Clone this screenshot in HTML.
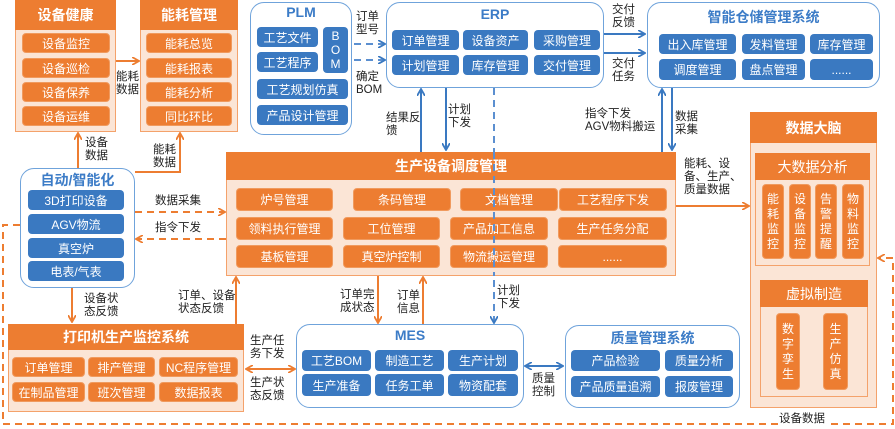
<!DOCTYPE html>
<html><head><meta charset="utf-8"><style>
*{margin:0;padding:0;box-sizing:border-box}
body{width:895px;height:429px;background:#fff;position:relative;overflow:hidden;font-family:"Liberation Sans","Noto Sans CJK SC",sans-serif;}
.a{position:absolute}
.ob{position:absolute;background:#FBE5D6;border:1.5px solid #F4A26B}
.oh{position:absolute;background:#ED7D31;color:#fff;font-weight:bold;font-size:14px;display:flex;align-items:center;justify-content:center}
.oi{position:absolute;background:#ED7D31;color:#fff;font-size:12px;border-radius:4px;display:flex;align-items:center;justify-content:center;border:1px solid #F09A5E}
.bb{position:absolute;background:#fff;border:1.5px solid #6FA3DB;border-radius:14px}
.bt{position:absolute;color:#3C7CC7;font-weight:bold;font-size:14px;text-align:center}
.bi{position:absolute;background:#3A79C1;color:#fff;font-size:12px;border-radius:4px;display:flex;align-items:center;justify-content:center}
.v{flex-direction:column;line-height:15px;text-align:center}
.l{position:absolute;font-size:11.5px;color:#222;line-height:13px}
</style></head><body>
<svg class="a" style="left:0;top:0" width="895" height="429">
<defs>
<marker id="ao" markerWidth="8" markerHeight="8" refX="7" refY="4" orient="auto" markerUnits="userSpaceOnUse"><path d="M0,0 L7,4 L0,8" fill="none" stroke="#ED7D31" stroke-width="1.8"/></marker>
<marker id="ab" markerWidth="8" markerHeight="8" refX="7" refY="4" orient="auto" markerUnits="userSpaceOnUse"><path d="M0,0 L7,4 L0,8" fill="none" stroke="#3A79C1" stroke-width="1.8"/></marker>
<marker id="abs" markerWidth="8" markerHeight="8" refX="7" refY="4" orient="auto-start-reverse" markerUnits="userSpaceOnUse"><path d="M0,0 L7,4 L0,8" fill="none" stroke="#3A79C1" stroke-width="1.8"/></marker>
<marker id="aos" markerWidth="8" markerHeight="8" refX="7" refY="4" orient="auto-start-reverse" markerUnits="userSpaceOnUse"><path d="M0,0 L7,4 L0,8" fill="none" stroke="#ED7D31" stroke-width="1.8"/></marker>
</defs>
<g stroke="#ED7D31" stroke-width="2" fill="none">
<line x1="115" y1="61" x2="139" y2="61" marker-end="url(#ao)"/>
<line x1="78" y1="168" x2="78" y2="133" marker-end="url(#ao)"/>
<polyline points="135,172 180,172 180,133" marker-end="url(#ao)"/>
<line x1="72" y1="288" x2="72" y2="322" marker-end="url(#ao)"/>
<line x1="236" y1="324" x2="236" y2="277" marker-end="url(#ao)"/>
<line x1="378" y1="275" x2="378" y2="323" marker-end="url(#ao)"/>
<line x1="423" y1="324" x2="423" y2="277" marker-end="url(#ao)"/>
<line x1="246" y1="369" x2="295" y2="369" marker-start="url(#aos)" marker-end="url(#ao)"/>
<line x1="676" y1="206" x2="749" y2="206" marker-end="url(#ao)"/>
<g stroke-dasharray="7,5">
<line x1="135" y1="212" x2="225" y2="212" marker-end="url(#ao)"/>
<line x1="226" y1="239" x2="136" y2="239" marker-end="url(#ao)"/>
<polyline points="20,225 3,225 3,424 893,424 893,258 878,258" marker-end="url(#ao)"/>
</g>
</g>
<g stroke="#3A79C1" stroke-width="2" fill="none">
<line x1="421" y1="152" x2="421" y2="89" marker-end="url(#ab)"/>
<line x1="446" y1="88" x2="446" y2="150" marker-end="url(#ab)"/>
<line x1="662" y1="152" x2="662" y2="89" marker-end="url(#ab)"/>
<line x1="672" y1="88" x2="672" y2="150" marker-end="url(#ab)"/>
<line x1="604" y1="34" x2="645" y2="34" marker-end="url(#ab)"/>
<line x1="604" y1="53" x2="645" y2="53" marker-end="url(#ab)"/>
<line x1="525" y1="366" x2="563" y2="366" marker-start="url(#abs)" marker-end="url(#ab)"/>
<g stroke-dasharray="7,5" stroke="#5B8FD0">
<line x1="354" y1="44" x2="385" y2="44" marker-end="url(#ab)"/>
<line x1="354" y1="60" x2="385" y2="60" marker-end="url(#ab)"/>
<line x1="494" y1="88" x2="494" y2="323" marker-end="url(#ab)"/>
</g>
</g>
</svg>

<!-- 设备健康 -->
<div class="ob" style="left:15px;top:0;width:101px;height:132px"></div>
<div class="oh" style="left:15px;top:0;width:101px;height:30px">设备健康</div>
<div class="oi" style="left:22px;top:33px;width:88px;height:20px">设备监控</div>
<div class="oi" style="left:22px;top:58px;width:88px;height:20px">设备巡检</div>
<div class="oi" style="left:22px;top:82px;width:88px;height:20px">设备保养</div>
<div class="oi" style="left:22px;top:106px;width:88px;height:20px">设备运维</div>
<!-- 能耗管理 -->
<div class="ob" style="left:140px;top:0;width:98px;height:132px"></div>
<div class="oh" style="left:140px;top:0;width:98px;height:30px">能耗管理</div>
<div class="oi" style="left:146px;top:33px;width:86px;height:20px">能耗总览</div>
<div class="oi" style="left:146px;top:58px;width:86px;height:20px">能耗报表</div>
<div class="oi" style="left:146px;top:82px;width:86px;height:20px">能耗分析</div>
<div class="oi" style="left:146px;top:106px;width:86px;height:20px">同比环比</div>
<div class="l" style="left:116px;top:71px">能耗<br>数据</div>
<div class="l" style="left:85px;top:137px">设备<br>数据</div>
<div class="l" style="left:153px;top:144px">能耗<br>数据</div>

<!-- PLM -->
<div class="bb" style="left:250px;top:2px;width:102px;height:133px"></div>
<div class="bt" style="left:250px;top:4px;width:102px">PLM</div>
<div class="bi" style="left:257px;top:27px;width:61px;height:20px">工艺文件</div>
<div class="bi" style="left:257px;top:52px;width:61px;height:20px">工艺程序</div>
<div class="bi v" style="left:323px;top:27px;width:25px;height:46px;line-height:14px">B<br>O<br>M</div>
<div class="bi" style="left:257px;top:79px;width:91px;height:20px">工艺规划仿真</div>
<div class="bi" style="left:257px;top:105px;width:91px;height:20px">产品设计管理</div>
<div class="l" style="left:356px;top:11px">订单<br>型号</div>
<div class="l" style="left:356px;top:71px">确定<br>BOM</div>

<!-- ERP -->
<div class="bb" style="left:386px;top:2px;width:218px;height:86px"></div>
<div class="bt" style="left:386px;top:6px;width:218px">ERP</div>
<div class="bi" style="left:392px;top:30px;width:67px;height:20px">订单管理</div>
<div class="bi" style="left:392px;top:55px;width:67px;height:20px">计划管理</div>
<div class="bi" style="left:463px;top:30px;width:65px;height:20px">设备资产</div>
<div class="bi" style="left:463px;top:55px;width:65px;height:20px">库存管理</div>
<div class="bi" style="left:534px;top:30px;width:66px;height:20px">采购管理</div>
<div class="bi" style="left:534px;top:55px;width:66px;height:20px">交付管理</div>
<div class="l" style="left:612px;top:4px">交付<br>反馈</div>
<div class="l" style="left:612px;top:58px">交付<br>任务</div>

<!-- 智能仓储 -->
<div class="bb" style="left:647px;top:2px;width:233px;height:86px"></div>
<div class="bt" style="left:647px;top:7px;width:233px">智能仓储管理系统</div>
<div class="bi" style="left:659px;top:34px;width:77px;height:20px">出入库管理</div>
<div class="bi" style="left:742px;top:34px;width:63px;height:20px">发料管理</div>
<div class="bi" style="left:810px;top:34px;width:63px;height:20px">库存管理</div>
<div class="bi" style="left:659px;top:59px;width:77px;height:21px">调度管理</div>
<div class="bi" style="left:742px;top:59px;width:63px;height:21px">盘点管理</div>
<div class="bi" style="left:810px;top:59px;width:63px;height:21px">......</div>

<div class="l" style="left:386px;top:112px">结果反<br>馈</div>
<div class="l" style="left:448px;top:104px">计划<br>下发</div>
<div class="l" style="left:585px;top:108px">指令下发<br>AGV物料搬运</div>
<div class="l" style="left:675px;top:111px">数据<br>采集</div>

<!-- 生产设备调度管理 -->
<div class="ob" style="left:226px;top:152px;width:450px;height:124px"></div>
<div class="oh" style="left:226px;top:152px;width:450px;height:28px">生产设备调度管理</div>
<div class="oi" style="left:236px;top:188px;width:97px;height:23px">炉号管理</div>
<div class="oi" style="left:353px;top:188px;width:98px;height:23px">条码管理</div>
<div class="oi" style="left:460px;top:188px;width:98px;height:23px">文档管理</div>
<div class="oi" style="left:559px;top:188px;width:108px;height:23px">工艺程序下发</div>
<div class="oi" style="left:236px;top:217px;width:97px;height:23px">领料执行管理</div>
<div class="oi" style="left:343px;top:217px;width:97px;height:23px">工位管理</div>
<div class="oi" style="left:450px;top:217px;width:98px;height:23px">产品加工信息</div>
<div class="oi" style="left:558px;top:217px;width:109px;height:23px">生产任务分配</div>
<div class="oi" style="left:236px;top:245px;width:97px;height:23px">基板管理</div>
<div class="oi" style="left:343px;top:245px;width:97px;height:23px">真空炉控制</div>
<div class="oi" style="left:450px;top:245px;width:98px;height:23px">物流搬运管理</div>
<div class="oi" style="left:558px;top:245px;width:109px;height:23px">......</div>
<svg class="a" style="left:0;top:0" width="895" height="429"><line x1="494" y1="152" x2="494" y2="276" stroke="#5B8FD0" stroke-width="2" stroke-dasharray="7,5"/></svg>

<!-- 自动/智能化 -->
<div class="bb" style="left:20px;top:168px;width:115px;height:120px"></div>
<div class="bt" style="left:20px;top:170px;width:115px">自动/智能化</div>
<div class="bi" style="left:28px;top:190px;width:96px;height:20px">3D打印设备</div>
<div class="bi" style="left:28px;top:214px;width:96px;height:20px">AGV物流</div>
<div class="bi" style="left:28px;top:238px;width:96px;height:20px">真空炉</div>
<div class="bi" style="left:28px;top:261px;width:96px;height:20px">电表/气表</div>
<div class="l" style="left:155px;top:195px">数据采集</div>
<div class="l" style="left:155px;top:222px">指令下发</div>
<div class="l" style="left:84px;top:293px">设备状<br>态反馈</div>
<div class="l" style="left:178px;top:290px">订单、设备<br>状态反馈</div>

<!-- 打印机 -->
<div class="ob" style="left:8px;top:324px;width:236px;height:88px"></div>
<div class="oh" style="left:8px;top:324px;width:236px;height:26px">打印机生产监控系统</div>
<div class="oi" style="left:12px;top:357px;width:73px;height:20px">订单管理</div>
<div class="oi" style="left:88px;top:357px;width:67px;height:20px">排产管理</div>
<div class="oi" style="left:159px;top:357px;width:79px;height:20px">NC程序管理</div>
<div class="oi" style="left:12px;top:382px;width:73px;height:20px">在制品管理</div>
<div class="oi" style="left:88px;top:382px;width:67px;height:20px">班次管理</div>
<div class="oi" style="left:159px;top:382px;width:79px;height:20px">数据报表</div>
<div class="l" style="left:250px;top:335px">生产任<br>务下发</div>
<div class="l" style="left:250px;top:377px">生产状<br>态反馈</div>
<div class="l" style="left:340px;top:289px">订单完<br>成状态</div>
<div class="l" style="left:397px;top:290px">订单<br>信息</div>
<div class="l" style="left:497px;top:285px">计划<br>下发</div>

<!-- MES -->
<div class="bb" style="left:296px;top:324px;width:228px;height:84px"></div>
<div class="bt" style="left:296px;top:327px;width:228px">MES</div>
<div class="bi" style="left:302px;top:350px;width:69px;height:21px">工艺BOM</div>
<div class="bi" style="left:375px;top:350px;width:69px;height:21px">制造工艺</div>
<div class="bi" style="left:448px;top:350px;width:70px;height:21px">生产计划</div>
<div class="bi" style="left:302px;top:374px;width:69px;height:22px">生产准备</div>
<div class="bi" style="left:375px;top:374px;width:69px;height:22px">任务工单</div>
<div class="bi" style="left:448px;top:374px;width:70px;height:22px">物资配套</div>
<div class="l" style="left:532px;top:373px">质量<br>控制</div>

<!-- 质量 -->
<div class="bb" style="left:565px;top:325px;width:175px;height:83px"></div>
<div class="bt" style="left:565px;top:328px;width:175px">质量管理系统</div>
<div class="bi" style="left:571px;top:350px;width:89px;height:21px">产品检验</div>
<div class="bi" style="left:665px;top:350px;width:68px;height:21px">质量分析</div>
<div class="bi" style="left:571px;top:376px;width:89px;height:21px">产品质量追溯</div>
<div class="bi" style="left:665px;top:376px;width:68px;height:21px">报废管理</div>

<div class="l" style="left:684px;top:158px">能耗、设<br>备、生产、<br>质量数据</div>

<!-- 数据大脑 -->
<div class="ob" style="left:750px;top:112px;width:127px;height:296px"></div>
<div class="oh" style="left:750px;top:112px;width:127px;height:31px">数据大脑</div>
<div class="ob" style="left:755px;top:153px;width:115px;height:113px;border-color:#F4A26B"></div>
<div class="oh" style="left:755px;top:153px;width:115px;height:27px;font-weight:normal">大数据分析</div>
<div class="oi v" style="left:762px;top:184px;width:22px;height:75px">能<br>耗<br>监<br>控</div>
<div class="oi v" style="left:789px;top:184px;width:22px;height:75px">设<br>备<br>监<br>控</div>
<div class="oi v" style="left:815px;top:184px;width:22px;height:75px">告<br>警<br>提<br>醒</div>
<div class="oi v" style="left:842px;top:184px;width:22px;height:75px">物<br>料<br>监<br>控</div>
<div class="ob" style="left:760px;top:280px;width:108px;height:117px"></div>
<div class="oh" style="left:760px;top:280px;width:108px;height:27px;font-weight:normal">虚拟制造</div>
<div class="oi v" style="left:776px;top:313px;width:24px;height:77px">数<br>字<br>孪<br>生</div>
<div class="oi v" style="left:823px;top:313px;width:25px;height:77px">生<br>产<br>仿<br>真</div>
<div class="l" style="left:778px;top:413px;background:#fff;padding:0 1px">设备数据</div>
</body></html>
